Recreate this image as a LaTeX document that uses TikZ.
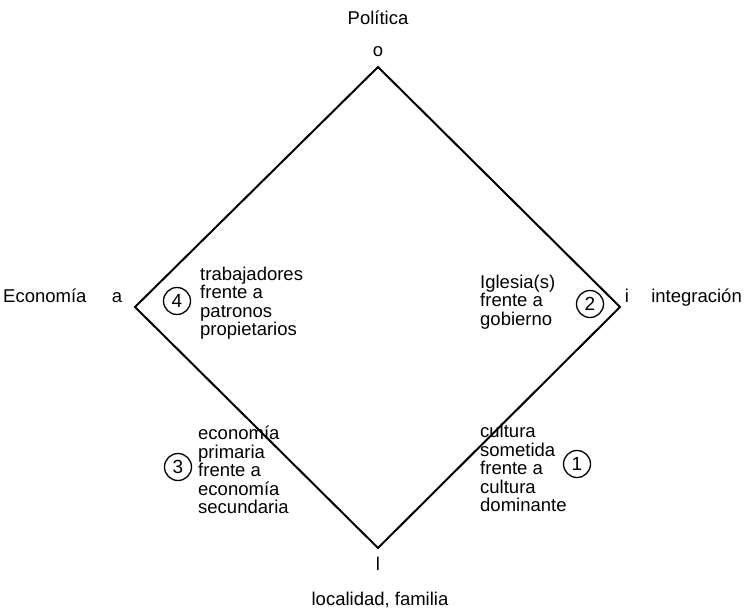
\documentclass[tikz,border=0pt]{standalone}
\usepackage{fontspec}
\setmainfont{Liberation Sans}
\begin{document}
\begin{tikzpicture}[
  x=1pt,y=-1pt,
  pole/.style={inner sep=0,anchor=base,font=\fontsize{18.5}{18.5}\selectfont},
  case/.style={inner sep=0,align=left,anchor=west,font=\fontsize{18.5}{18.5}\selectfont},
  num/.style={draw,circle,line width=1.3pt,minimum size=27pt,inner sep=0,font=\fontsize{19}{19}\selectfont},
  side/.style={line width=2pt,line join=miter}
  ]
  \useasboundingbox (0,0) rectangle (744,610);
  % 
  % Diamond
  % 
  \coordinate(top)    at (378,67);
  \coordinate(left)   at (135,307);
  \coordinate(right)  at (620,307);
  \coordinate(bottom) at (378,548);
  \draw[side] (top) -- (right) -- (bottom) -- (left) -- cycle;
  % 
  % Poles
  % 
  \node(pol)  [pole] at (378,25)  {Política};
  \node(o)    [pole] at (378,57)  {o};
  \node(eco)  [pole,anchor=base west] at (3,302) {Economía};
  \node(a)    [pole] at (117,302) {a};
  \node(i)    [pole] at (627,302) {i};
  \node(integ)[pole,anchor=base east] at (742,302) {integración};
  \node(l)    [pole] at (378,570) {l};
  \node(loc)  [pole] at (380,605) {localidad, familia};
  % 
  % Cases
  % 
  \node(trab) [case] at (200,303) {trabajadores\\frente a\\patronos\\propietarios};
  \node(igl)  [case] at (480,302) {Iglesia(s)\\frente a\\gobierno};
  \node(econ) [case] at (198,470) {economía\\primaria\\frente a\\economía\\secundaria};
  \node(cult) [case] at (480,468) {cultura\\sometida\\frente a\\cultura\\dominante};
  % 
  % Numbers
  % 
  \node(n4)[num] at (177,301) {4};
  \node(n2)[num] at (590,304) {2};
  \node(n3)[num] at (178,467) {3};
  \node(n1)[num] at (577,464) {1};
\end{tikzpicture}
\end{document}
